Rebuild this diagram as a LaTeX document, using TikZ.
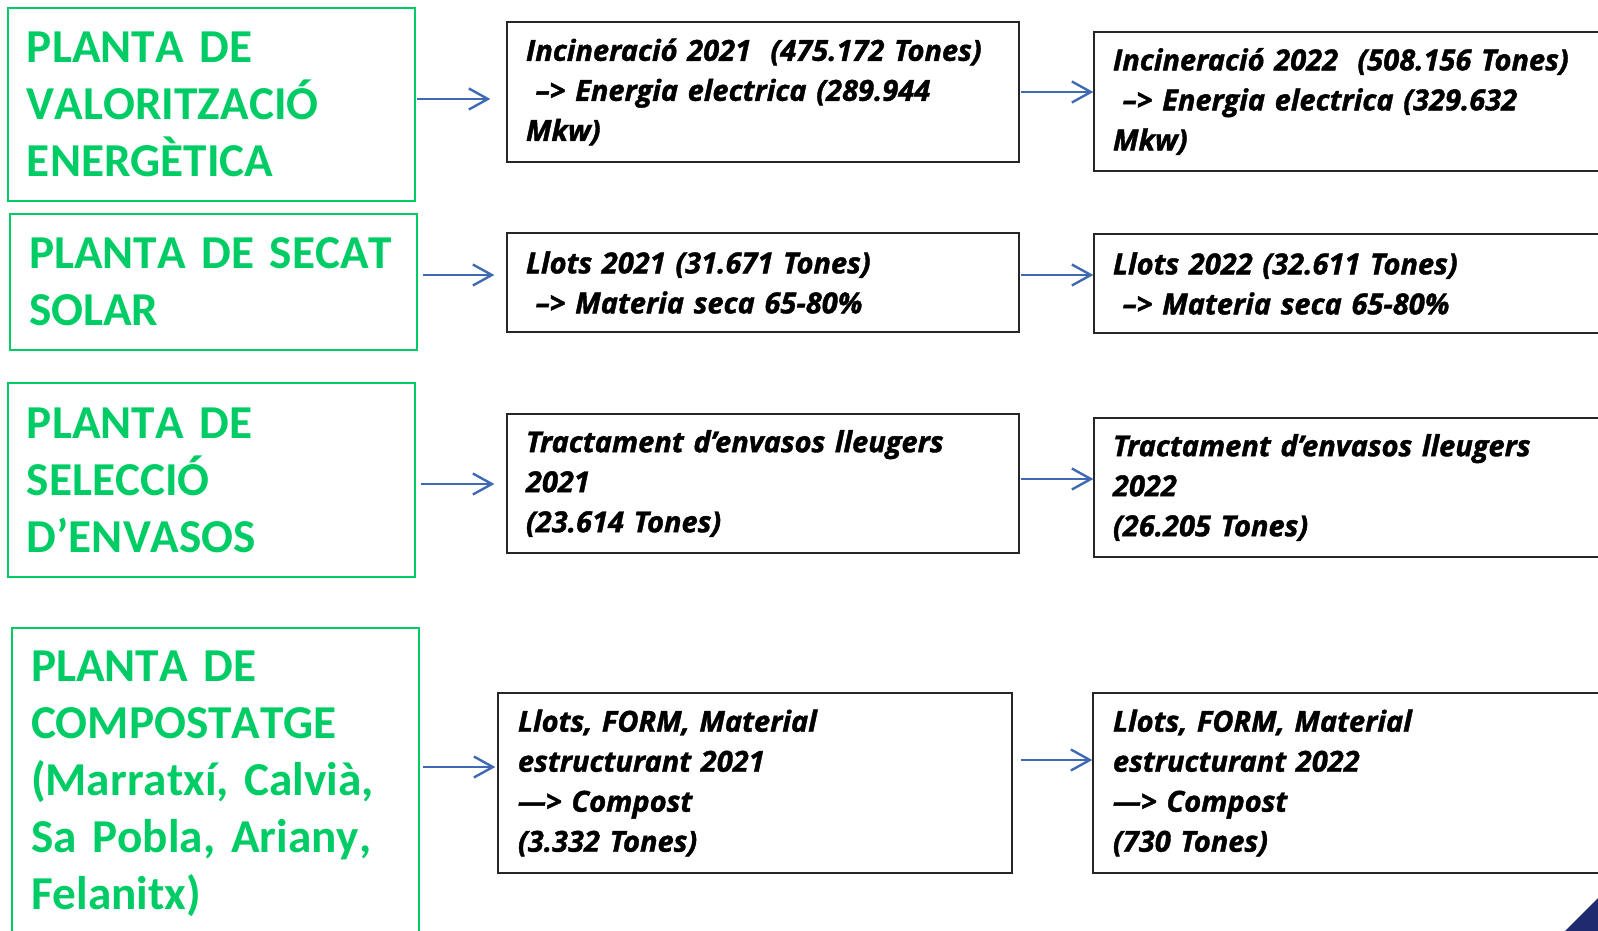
\documentclass[tikz,border=0pt]{standalone}
\usepackage{fontspec}
\setmainfont[Kerning=Off]{Carlito}
\newfontfamily\boxfont[FakeBold=1.4]{Open Sans}
\usetikzlibrary{arrows.meta}
\definecolor{plantgreen}{RGB}{0,204,102}
\definecolor{flowblue}{RGB}{63,106,178}
\definecolor{cornernavy}{RGB}{31,43,110}
\protected\def\plantfont{\fontsize{47.2}{57}\selectfont\bfseries\spaceskip=6.5pt plus 3pt minus 1pt\relax}
\begin{document}
\begin{tikzpicture}[
    x=1pt, y=-1pt,
    plant/.style={draw=plantgreen, line width=1.8pt, text=plantgreen,
        rectangle, minimum width=407pt, text width=369pt, inner xsep=19pt,
        align=left, font=\plantfont},
    data/.style={draw=black!85, line width=1.3pt, rectangle,
        minimum width=512pt, text width=474pt, inner xsep=19pt,
        align=left, font=\boxfont\fontsize{29}{40}\selectfont\bfseries\itshape},
    flow/.style={draw=flowblue, line width=2.4pt,
        -{Straight Barb[length=19pt, width=21pt, line width=2.4pt]}}
]
\useasboundingbox (0,0) rectangle (1598,931);
\clip (0,0) rectangle (1598,931);

% plantes
\node[plant, minimum height=193pt] (val) at (211.5,104.5)
    {PLANTA DE\\VALORITZACIÓ\\ENERGÈTICA};
\node[plant, minimum height=136pt] (sec) at (213.5,282)
    {PLANTA DE SECAT\\SOLAR};
\node[plant, minimum height=194pt] (sel) at (211.5,480)
    {PLANTA DE\\SELECCIÓ\\D’ENVASOS};
\node[plant, minimum height=312pt] (comp) at (215.5,784)
    {PLANTA DE\\COMPOSTATGE\\(Marratxí, Calvià,\\Sa Pobla, Ariany,\\Felanitx)};

% 2021
\node[data, minimum height=140pt] (inc21) at (763,92)
    {Incineració 2021~~(475.172 Tones)\\~–> Energia electrica (289.944\\Mkw)};
\node[data, minimum height=99pt] (llo21) at (763,282.5)
    {Llots 2021 (31.671 Tones)\\~–> Materia seca 65-80\%};
\node[data, minimum height=139pt] (env21) at (763,483.5)
    {Tractament d’envasos lleugers\\2021\\(23.614 Tones)};
\node[data, minimum width=514pt, minimum height=180pt] (com21) at (755,783)
    {Llots, FORM, Material\\estructurant 2021\\—> Compost\\(3.332 Tones)};

% 2022
\node[data, minimum height=139pt] (inc22) at (1350,101.5)
    {Incineració 2022~~(508.156 Tones)\\~–> Energia electrica (329.632\\Mkw)};
\node[data, minimum height=99pt] (llo22) at (1350,283.5)
    {Llots 2022 (32.611 Tones)\\~–> Materia seca 65-80\%};
\node[data, minimum height=139pt] (env22) at (1350,487.5)
    {Tractament d’envasos lleugers\\2022\\(26.205 Tones)};
\node[data, minimum width=514pt, minimum height=180pt] (com22) at (1350,783)
    {Llots, FORM, Material\\estructurant 2022\\—> Compost\\(730 Tones)};

% fletxes
\draw[flow, shorten >=16pt] ([xshift=1pt, yshift=5.5pt]val.east) -- ([yshift=-7pt]inc21.west);
\draw[flow] ([xshift=1pt]inc21.east) -- ([yshift=9.5pt]inc22.west);
\draw[flow, shorten >=12pt] ([xshift=5pt, yshift=7pt]sec.east) -- ([yshift=7.5pt]llo21.west);
\draw[flow] ([xshift=1pt, yshift=7.5pt]llo21.east) -- ([yshift=8.5pt]llo22.west);
\draw[flow, shorten >=12pt] ([xshift=5pt, yshift=-4pt]sel.east) -- ([yshift=-0.5pt]env21.west);
\draw[flow] ([xshift=1pt, yshift=4.5pt]env21.east) -- ([yshift=8.5pt]env22.west);
\draw[flow, shorten >=2pt] ([xshift=3pt, yshift=17pt]comp.east) -- ([yshift=16pt]com21.west);
\draw[flow] ([xshift=8pt, yshift=23pt]com21.east) -- ([yshift=23pt]com22.west);

\fill[cornernavy] (1565,931) -- (1598,898) -- (1598,931) -- cycle;
\end{tikzpicture}
\end{document}
